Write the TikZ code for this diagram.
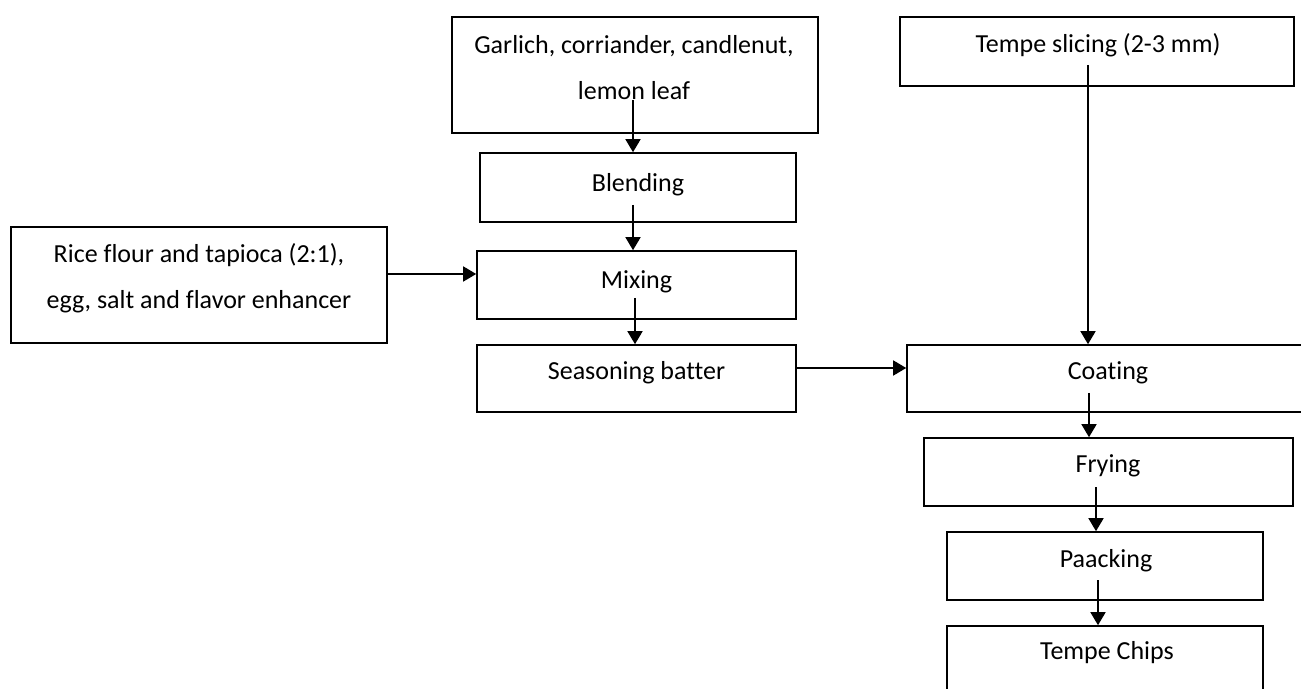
\documentclass[tikz,border=0pt]{standalone}
\usepackage{fontspec}
\setmainfont[RawFeature={-liga;-clig;-dlig}]{Carlito}
\usetikzlibrary{arrows.meta}
\begin{document}
\begin{tikzpicture}[x=0.5pt,y=-0.5pt,
 box/.style={draw=black, line width=0.8pt, inner sep=0pt, rectangle},
 lbl/.style={anchor=base, inner sep=0pt, font=\fontsize{13pt}{15pt}\selectfont},
 arr/.style={draw=black, line width=0.8pt, -{Triangle[length=6.5pt,width=7.5pt]}}]
\clip (0,0) rectangle (1301,689);
\fill[white] (0,0) rectangle (1301,689);
% boxes
\node[box, minimum width=183pt, minimum height=58pt] (g) at (635,75) {};
\node[box, minimum width=197pt, minimum height=34.5pt] (ts) at (1097,51.5) {};
\node[box, minimum width=158pt, minimum height=34.5pt] (bl) at (638,187.5) {};
\node[box, minimum width=188pt, minimum height=58pt] (rf) at (199,285) {};
\node[box, minimum width=159.5pt, minimum height=34pt] (mx) at (636.5,285) {};
\node[box, minimum width=159.5pt, minimum height=33.5pt] (sb) at (636.5,378.5) {};
\node[box, minimum width=201pt, minimum height=33.5pt] (co) at (1108,378.5) {};
\node[box, minimum width=184.5pt, minimum height=34pt] (fr) at (1108.5,472) {};
\node[box, minimum width=158pt, minimum height=34pt] (pk) at (1105,566) {};
\node[box, minimum width=158pt, minimum height=34pt] (tc) at (1105,660) {};
% texts
\node[lbl] (gt1) at (634,54) {Garlich, corriander, candlenut,};
\node[lbl] (gt2) at (634,100) {lemon leaf};
\node[lbl] (tst) at (1098,53) {Tempe slicing (2-3 mm)};
\node[lbl] (blt) at (638,192) {Blending};
\node[lbl] (rft1) at (199,263) {Rice flour and tapioca (2:1),};
\node[lbl] (rft2) at (199,309) {egg, salt and flavor enhancer};
\node[lbl] (mxt) at (636.5,289) {Mixing};
\node[lbl] (sbt) at (636.5,380) {Seasoning batter};
\node[lbl] (cot) at (1108,380) {Coating};
\node[lbl] (frt) at (1108,473) {Frying};
\node[lbl] (pkt) at (1106,567) {Paacking};
\node[lbl] (tct) at (1107,659) {Tempe Chips};
% connector start points
\coordinate (s1) at (633,100);
\coordinate (s2) at (633,205);
\coordinate (s3) at (635,298);
\coordinate (s4) at (387,274);
\coordinate (s5) at (796,368);
\coordinate (s6) at (1088,65);
\coordinate (s7) at (1089,393);
\coordinate (s8) at (1096,487);
\coordinate (s9) at (1098,580);
% connectors
\draw[arr] (s1) -- (s1 |- bl.north);
\draw[arr] (s2) -- (s2 |- mx.north);
\draw[arr] (s3) -- (s3 |- sb.north);
\draw[arr] (s4) -- (s4 -| mx.west);
\draw[arr] (s5) -- (s5 -| co.west);
\draw[arr] (s6) -- (s6 |- co.north);
\draw[arr] (s7) -- (s7 |- fr.north);
\draw[arr] (s8) -- (s8 |- pk.north);
\draw[arr] (s9) -- (s9 |- tc.north);
\end{tikzpicture}
\end{document}
